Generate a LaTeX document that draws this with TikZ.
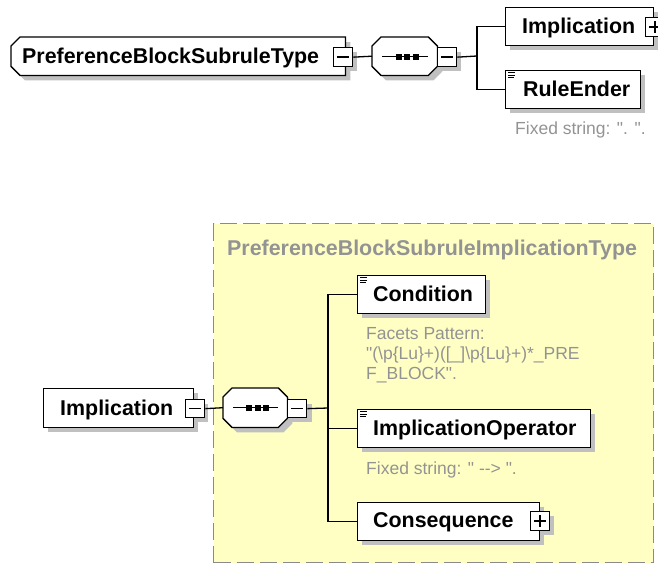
\documentclass[tikz,border=0pt]{standalone}
\usepackage{fontspec}
\setmainfont{Liberation Sans}[Ligatures=TeXOff]
\definecolor{shadowgray}{HTML}{C0C0C0}
\definecolor{txtgray}{HTML}{939393}
\definecolor{boxyellow}{HTML}{FFFFC4}
\definecolor{dashgray}{HTML}{8A8A8A}
\tikzset{
  elem/.style={draw=black, line width=1.3pt, fill=white, rectangle, anchor=north west, inner sep=0pt, minimum height=38pt},
  ghost/.style={draw=none, fill=none, rectangle, anchor=north west, inner sep=0pt, minimum height=38pt},
  chamf/.style={draw=black, line width=1.3pt, fill=white},
  shadow/.style={fill=shadowgray, draw=none},
  cshadow/.style={fill=shadowgray, draw=none, transform canvas={shift={(5pt,-5pt)}}},
  lbl/.style={anchor=base west, inner sep=0pt, font=\fontsize{21.4}{24}\selectfont\bfseries},
  note/.style={anchor=base west, inner sep=0pt, text=txtgray, font=\fontsize{17.5}{20}\selectfont, align=left},
  pmbox/.style={draw=black, line width=1.3pt, fill=white, rectangle, anchor=north west, inner sep=0pt, minimum width=19pt, minimum height=19pt},
  conn/.style={draw=black, line width=1.3pt},
  icon/.style={draw=black, line width=0.9pt},
  pm/.style={draw=black, line width=1.4pt},
}
\begin{document}
\begin{tikzpicture}[x=1pt, y=-1pt]
\useasboundingbox (0,0) rectangle (658,563);

% ================= TOP =================
% helper nodes (invisible frames for chamfered shapes)
\node[ghost, minimum width=334pt] (typ) at (11,37) {};
\node[ghost, minimum width=65pt] (seq1) at (372,37) {};

% shadows
\fill[cshadow] ([xshift=9pt]typ.north west) -- (typ.north east) -- (typ.south east)
  -- ([xshift=9pt]typ.south west) -- ([yshift=9pt]typ.south west)
  -- ([yshift=-9pt]typ.north west) -- cycle;
\fill[shadow] (338,52) rectangle (357,71);
\fill[cshadow] ([xshift=9pt]seq1.north west) -- ([xshift=-9pt]seq1.north east)
  -- ([yshift=-9pt]seq1.north east) -- ([yshift=9pt]seq1.south east)
  -- ([xshift=-9pt]seq1.south east) -- ([xshift=9pt]seq1.south west)
  -- ([yshift=9pt]seq1.south west) -- ([yshift=-9pt]seq1.north west) -- cycle;
\fill[shadow] (442,52) rectangle (461,71);
\fill[shadow] (510,12) rectangle (658,50);
\fill[shadow] (510,75) rectangle (645,113);

% type box (chamfered left corners)
\draw[chamf] ([xshift=9pt]typ.north west) -- (typ.north east) -- (typ.south east)
  -- ([xshift=9pt]typ.south west) -- ([yshift=9pt]typ.south west)
  -- ([yshift=-9pt]typ.north west) -- cycle;
\node[lbl] (typT) at (22,63.5) {PreferenceBlockSubruleType};
\node[pmbox] (typM) at (333,47) {};
\draw[pm] ([xshift=4pt]typM.center-|typM.west) -- ([xshift=-4pt]typM.center-|typM.east);

% sequence 1
\draw[chamf] ([xshift=9pt]seq1.north west) -- ([xshift=-9pt]seq1.north east)
  -- ([yshift=-9pt]seq1.north east) -- ([yshift=9pt]seq1.south east)
  -- ([xshift=-9pt]seq1.south east) -- ([xshift=9pt]seq1.south west)
  -- ([yshift=9pt]seq1.south west) -- ([yshift=-9pt]seq1.north west) -- cycle;
\draw[conn] ([xshift=10pt]seq1.west) -- ([xshift=-9pt]seq1.east);
\fill (395.5,53.5) rectangle (401.5,59.5);
\fill (404,53.5) rectangle (410,59.5);
\fill (412.5,53.5) rectangle (418.5,59.5);
\node[pmbox] (seq1M) at (437,47) {};
\draw[pm] ([xshift=4pt]seq1M.center-|seq1M.west) -- ([xshift=-4pt]seq1M.center-|seq1M.east);

\draw[conn] (typM.east) -- (seq1.west);

% children top
\node[elem, minimum width=148pt] (impA) at (505,7) {};
\node[lbl] (impAT) at (522,33.3) {Implication};
\node[pmbox] (impAP) at (645,17) {};
\draw[pm] ([xshift=4pt]impAP.center-|impAP.west) -- ([xshift=-4pt]impAP.center-|impAP.east);
\draw[pm] ([yshift=-4pt]impAP.north) -- ([yshift=4pt]impAP.south);

\node[elem, minimum width=135pt] (rule) at (505,70) {};
\node[lbl] (ruleT) at (523,96.8) {RuleEnder};
\draw[icon] (508,72.5) -- (515,72.5);
\draw[icon] (508,75) -- (515,75);
\draw[icon] (508,77.5) -- (514,77.5);
\node[note] (ruleN) at (515,134) {Fixed string: ". ".};

\coordinate (busA) at (477,56);
\draw[conn] (seq1M.east) -- (busA);
\draw[conn] (impA.west) -| (busA);
\draw[conn] (rule.west) -| (busA);

% ================= BOTTOM =================
\node[draw=dashgray, line width=1.3pt, dash pattern=on 17pt off 6pt, fill=boxyellow, rectangle, anchor=north west, inner sep=0pt, minimum width=440pt, minimum height=339pt] (cont) at (213,223) {};
\node[anchor=base west, inner sep=0pt, text=txtgray, font=\fontsize{21.4}{24}\selectfont\bfseries] (contT) at (227,255) {PreferenceBlockSubruleImplicationType};

\node[ghost, minimum width=64pt, minimum height=39pt] (seq2) at (223,388) {};

% shadows
\fill[shadow] (48,393) rectangle (198,432);
\fill[shadow] (190,404) rectangle (208,422);
\fill[cshadow] ([xshift=9pt]seq2.north west) -- ([xshift=-9pt]seq2.north east)
  -- ([yshift=-9pt]seq2.north east) -- ([yshift=9pt]seq2.south east)
  -- ([xshift=-9pt]seq2.south east) -- ([xshift=9pt]seq2.south west)
  -- ([yshift=9pt]seq2.south west) -- ([yshift=-9pt]seq2.north west) -- cycle;
\fill[shadow] (292,404) rectangle (312,422);
\fill[shadow] (362,280) rectangle (490,318);
\fill[shadow] (362,414) rectangle (595,452);
\fill[shadow] (362,507) rectangle (544,545);
\fill[shadow] (535,516) rectangle (554,535);

% Implication (left)
\node[elem, minimum width=150pt, minimum height=39pt] (impB) at (43,388) {};
\node[lbl] (impBT) at (60,415) {Implication};
\node[pmbox, minimum height=18pt] (impBM) at (185,399) {};
\draw[pm] ([xshift=4pt]impBM.center-|impBM.west) -- ([xshift=-4pt]impBM.center-|impBM.east);

% sequence 2
\draw[chamf] ([xshift=9pt]seq2.north west) -- ([xshift=-9pt]seq2.north east)
  -- ([yshift=-9pt]seq2.north east) -- ([yshift=9pt]seq2.south east)
  -- ([xshift=-9pt]seq2.south east) -- ([xshift=9pt]seq2.south west)
  -- ([yshift=9pt]seq2.south west) -- ([yshift=-9pt]seq2.north west) -- cycle;
\draw[conn] ([xshift=10pt]seq2.west) -- ([xshift=-9pt]seq2.east);
\fill (246,404.5) rectangle (252,410.5);
\fill (254.5,404.5) rectangle (260.5,410.5);
\fill (263,404.5) rectangle (269,410.5);
\node[pmbox, minimum height=18pt] (seq2M) at (287,399) {};
\draw[pm] ([xshift=4pt]seq2M.center-|seq2M.west) -- ([xshift=-4pt]seq2M.center-|seq2M.east);

\draw[conn] (impBM.east) -- (seq2.west);

% children bottom
\node[elem, minimum width=128pt] (cond) at (357,275) {};
\node[lbl] (condT) at (373,301.3) {Condition};
\draw[icon] (360,277.5) -- (367,277.5);
\draw[icon] (360,280) -- (367,280);
\draw[icon] (360,282.5) -- (366,282.5);
\node[note, anchor=north west] (condN) at (366,327) {Facets Pattern:\\"(\textbackslash p\{Lu\}+)([\_]\textbackslash p\{Lu\}+)*\_PRE\\F\_BLOCK".};

\node[elem, minimum width=233pt] (oper) at (357,409) {};
\node[lbl] (operT) at (373,435.3) {ImplicationOperator};
\draw[icon] (360,411.5) -- (367,411.5);
\draw[icon] (360,414) -- (367,414);
\draw[icon] (360,416.5) -- (366,416.5);
\node[note] (operN) at (366,474) {Fixed string: " --> ".};

\node[elem, minimum width=182pt] (cons) at (357,502) {};
\node[lbl] (consT) at (373,527.5) {Consequence};
\node[pmbox] (consP) at (530,511) {};
\draw[pm] ([xshift=4pt]consP.center-|consP.west) -- ([xshift=-4pt]consP.center-|consP.east);
\draw[pm] ([yshift=-4pt]consP.north) -- ([yshift=4pt]consP.south);

\coordinate (busB) at (328,408);
\draw[conn] (seq2M.east) -- (busB);
\draw[conn] (cond.west) -| (busB);
\draw[conn] (oper.west) -| (busB);
\draw[conn] (cons.west) -| (busB);
\end{tikzpicture}
\end{document}
